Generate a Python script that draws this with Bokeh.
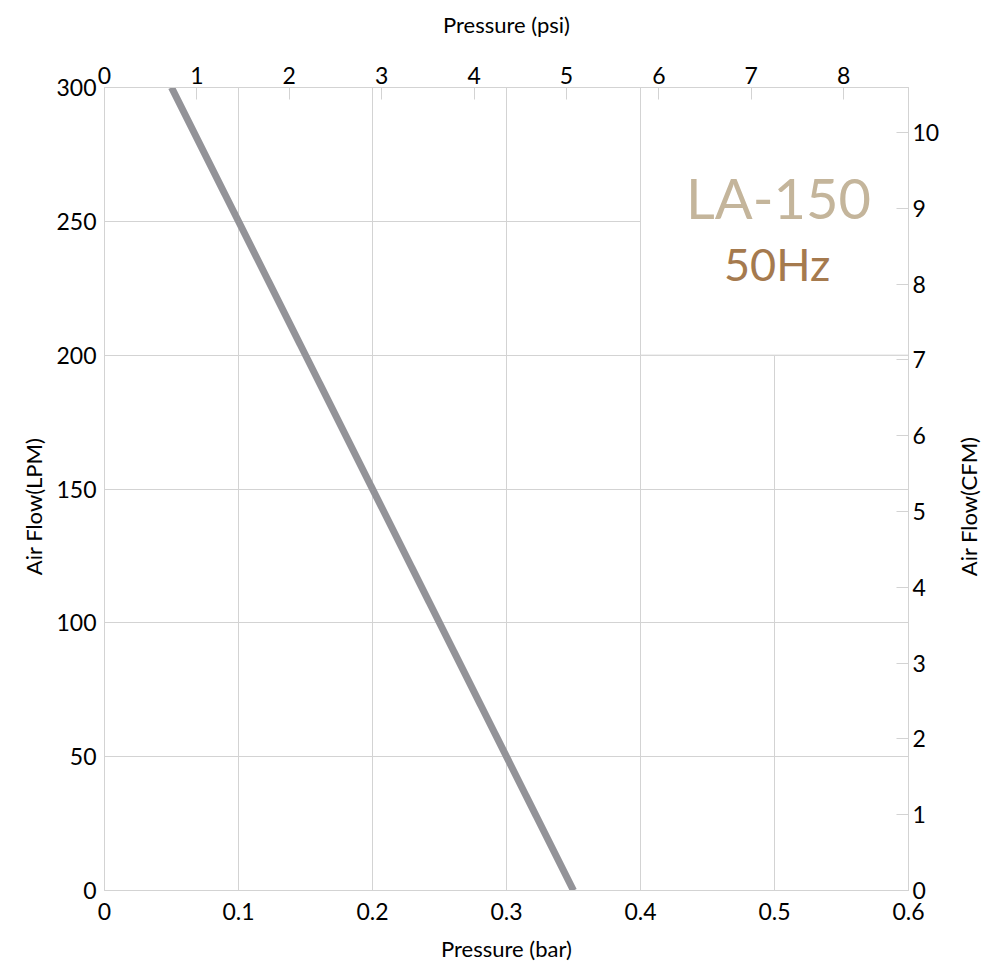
import math
from bokeh.plotting import figure
from bokeh.layouts import row
from bokeh.models import Range1d, LinearAxis, FixedTicker
from bokeh.core.properties import value
from bokeh.embed import file_html
from bokeh.resources import INLINE

# data
pressure_bar = [0.05, 0.35]
airflow_lpm = [300, 0]
bar_ticks = [0, 0.1, 0.2, 0.3, 0.4, 0.5, 0.6]
lpm_ticks = [0, 50, 100, 150, 200, 250, 300]
psi_ticks = [0, 1, 2, 3, 4, 5, 6, 7, 8]
cfm_ticks = [0, 1, 2, 3, 4, 5, 6, 7, 8, 9, 10]
PSI_PER_BAR = 14.5038
LPM_PER_CFM = 28.3168
model_name = "LA-150"
freq_label = "50Hz"
left_title = "Air Flow(LPM)"
right_title = "Air Flow(CFM)"

FONT = "Lato"
GRID = "#d3d3d3"
TOP, BOTTOM, FW, FH = 87, 78, 804, 803
LEFT_W, RIGHT_W = 50, 44
P_LEFT, P_RIGHT = 54, 40

p = figure(width=P_LEFT + FW + P_RIGHT, height=TOP + FH + BOTTOM,
           output_backend="svg", toolbar_location=None,
           x_range=Range1d(0, 0.6), y_range=Range1d(0, 300),
           frame_width=FW, frame_height=FH,
           min_border_left=P_LEFT, min_border_top=TOP,
           min_border_right=P_RIGHT, min_border_bottom=BOTTOM)
p.outline_line_color = GRID
p.background_fill_color = "white"

p.extra_x_ranges = {"psi": Range1d(0, 0.6 * PSI_PER_BAR)}
p.extra_y_ranges = {"cfm": Range1d(0, 300 / LPM_PER_CFM)}

p.xgrid.ticker = FixedTicker(ticks=bar_ticks)
p.ygrid.ticker = FixedTicker(ticks=lpm_ticks)
p.xgrid.grid_line_color = GRID
p.ygrid.grid_line_color = GRID

def style(ax, label):
    ax.axis_label = label
    ax.axis_label_text_font = FONT
    ax.axis_label_text_font_style = "normal"
    ax.axis_label_text_font_size = "22px"
    ax.axis_label_text_color = "black"
    ax.major_label_text_font = FONT
    ax.major_label_text_font_size = "23px"
    ax.major_label_text_color = "black"
    ax.axis_line_color = GRID
    ax.minor_tick_line_color = None
    ax.major_tick_line_color = GRID

xb = p.xaxis[0]
xb.ticker = FixedTicker(ticks=bar_ticks)
style(xb, "Pressure (bar)")
xb.major_tick_out = 0
xb.major_tick_in = 0
xb.major_label_standoff = 12
xb.axis_label_standoff = 12

yl = p.yaxis[0]
yl.ticker = FixedTicker(ticks=lpm_ticks)
style(yl, None)
yl.major_tick_out = 0
yl.major_tick_in = 0
yl.major_label_standoff = 8

xt = LinearAxis(x_range_name="psi", ticker=FixedTicker(ticks=psi_ticks))
style(xt, "Pressure (psi)")
xt.major_tick_out = 0
xt.major_tick_in = 12
xt.major_label_standoff = 4
xt.axis_label_standoff = 26
p.add_layout(xt, "above")

yr = LinearAxis(y_range_name="cfm", ticker=FixedTicker(ticks=cfm_ticks))
style(yr, None)
yr.major_tick_out = 0
yr.major_tick_in = 12
yr.major_label_standoff = 4
p.add_layout(yr, "right")

# white label box covering grid
p.quad(left=[0.4], right=[0.6], bottom=[200], top=[300],
       fill_color="white", line_color=GRID, line_width=1)

p.line(pressure_bar, airflow_lpm, line_color="#939398", line_width=7)

p.text(x=[0.503], y=[259], text=[model_name], text_font=value(FONT),
       text_font_size="56px", text_color="#c4b59b", text_align="center",
       text_baseline="middle")
p.text(x=[0.502], y=[234], text=[freq_label], text_font=value(FONT),
       text_font_size="45px", text_color="#a57a4e", text_align="center",
       text_baseline="middle")

def side(width, label, xpos):
    f = figure(width=width, height=TOP + FH + BOTTOM, output_backend="svg",
               toolbar_location=None, x_range=Range1d(0, width), y_range=p.y_range,
               frame_width=width, frame_height=FH, min_border_left=0, min_border_right=0,
               min_border_top=TOP, min_border_bottom=BOTTOM,
               x_axis_type=None, y_axis_type=None)
    f.grid.visible = False
    f.outline_line_color = None
    f.text(x=[xpos], y=[143.5], text=[label], text_font=value(FONT),
           text_font_size="22px", text_color="black", text_align="center",
           text_baseline="middle", angle=math.pi / 2)
    return f

left_fig = side(LEFT_W, left_title, 33)
right_fig = side(RIGHT_W, right_title, 20)

layout = row(left_fig, p, right_fig, spacing=0)
open("out.html", "w").write(file_html(layout, INLINE))
